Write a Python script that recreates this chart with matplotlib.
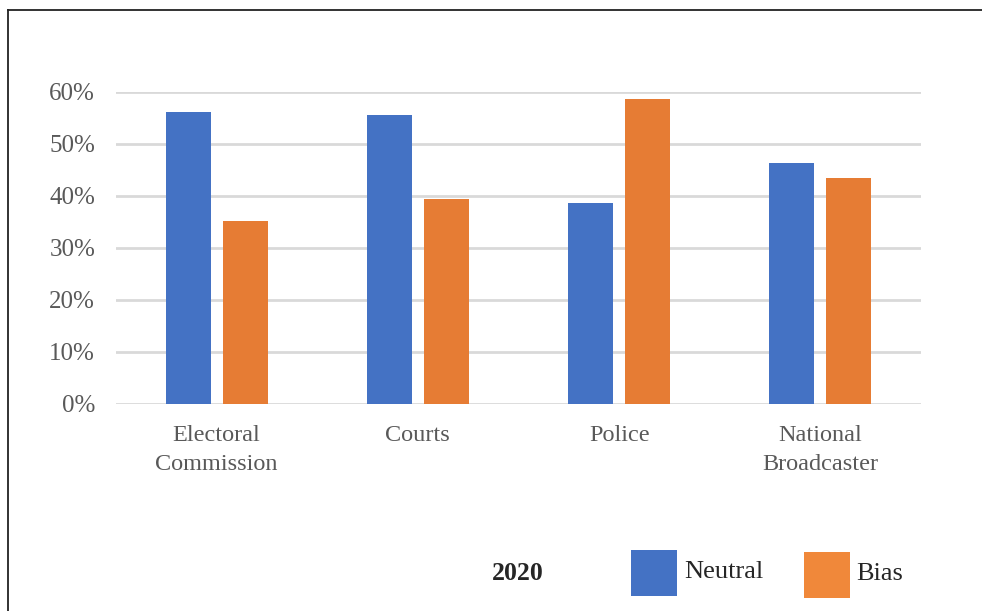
import numpy as np
import matplotlib
matplotlib.use("Agg")
from matplotlib import pyplot as plt
from matplotlib import ticker as mticker
from matplotlib.patches import Rectangle
from matplotlib.lines import Line2D

categories = ["Electoral\nCommission", "Courts", "Police", "National\nBroadcaster"]
neutral = [0.561, 0.555, 0.385, 0.462]
bias = [0.352, 0.393, 0.586, 0.434]
yticks = [0, 0.1, 0.2, 0.3, 0.4, 0.5, 0.6]
year_label = "2020"
series_names = ["Neutral", "Bias"]

BLUE = "#4472C4"
ORANGE = "#E67C34"
GREY_TXT = "#595959"

plt.rcParams["font.family"] = ["Liberation Serif", "DejaVu Serif"]

fig = plt.figure(figsize=(9.82, 6.11), dpi=100, facecolor="white")
ax = fig.add_axes([116 / 982, 207 / 611, 805 / 982, 312.5 / 611])

x = np.arange(len(categories))
w = 0.224
off = 0.142
ax.bar(x - off, neutral, w, color=BLUE, zorder=3)
ax.bar(x + off, bias, w, color=ORANGE, zorder=3)

ax.set_xlim(-0.5, len(categories) - 0.5)
ax.set_ylim(0, 0.6)
ax.set_yticks(yticks)
ax.yaxis.set_major_formatter(mticker.FuncFormatter(lambda v, p: f"{v * 100:.0f}%"))
ax.set_xticks(x)
ax.set_xticklabels(categories, fontsize=17.5, color=GREY_TXT, linespacing=1.5)
ax.tick_params(axis="y", labelsize=18, labelcolor=GREY_TXT, length=0, pad=15)
ax.tick_params(axis="x", length=0, pad=15)

ax.grid(axis="y", color="#D9D9D9", linewidth=2, zorder=0)
for s in ax.spines.values():
    s.set_visible(False)

# outer frame (top and left edges only, as in the cropped image)
fig.add_artist(Line2D([8 / 982, 1], [1 - 10 / 611, 1 - 10 / 611], color="#222222", lw=1.3))
fig.add_artist(Line2D([8 / 982, 8 / 982], [0, 1 - 10 / 611], color="#222222", lw=1.3))

# legend drawn by hand
fig.text(518 / 982, 1 - 573 / 611, year_label, fontsize=18.5, fontweight="bold",
         color="#262626", ha="center", va="center")
fig.add_artist(Rectangle((631 / 982, 1 - 596 / 611), 46 / 982, 46 / 611,
                         facecolor=BLUE, edgecolor="none", transform=fig.transFigure))
fig.text(684 / 982, 1 - 572 / 611, series_names[0], fontsize=19, color="#262626",
         ha="left", va="center")
fig.add_artist(Rectangle((804 / 982, 1 - 598 / 611), 46 / 982, 46 / 611,
                         facecolor="#F0883A", edgecolor="none", transform=fig.transFigure))
fig.text(856 / 982, 1 - 574 / 611, series_names[1], fontsize=19, color="#262626",
         ha="left", va="center")

fig.savefig("out.png", dpi=100, facecolor="white")
